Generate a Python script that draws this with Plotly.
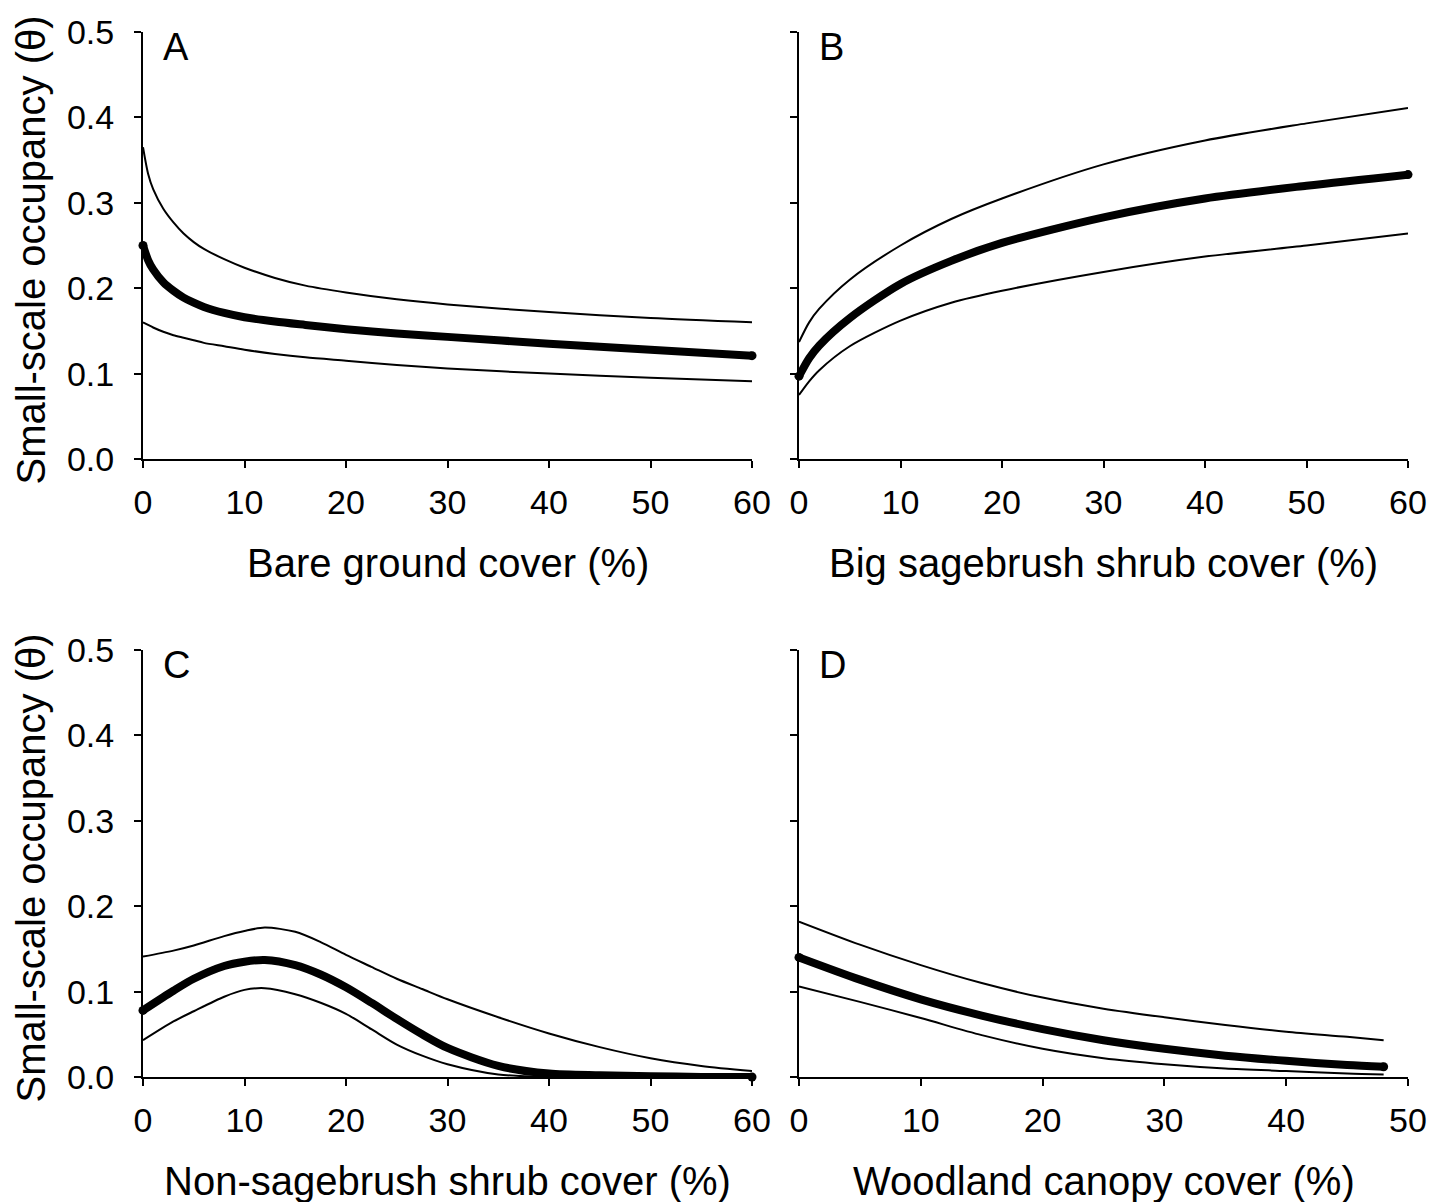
import plotly.graph_objects as go

# ---- Data ----
# Panel A: bare ground cover
a_x = [0, 0.5, 1, 2, 3, 4, 5, 6, 8, 10, 13, 16, 20, 25, 30, 40, 50, 60]
a_mean = [0.250, 0.233, 0.222, 0.207, 0.197, 0.189, 0.183, 0.178, 0.171, 0.166, 0.161, 0.157, 0.152, 0.147, 0.143, 0.135, 0.128, 0.121]
a_upper = [0.365, 0.334, 0.316, 0.293, 0.277, 0.264, 0.254, 0.246, 0.234, 0.224, 0.212, 0.203, 0.195, 0.187, 0.181, 0.172, 0.165, 0.160]
a_lower = [0.160, 0.157, 0.154, 0.149, 0.145, 0.142, 0.139, 0.136, 0.132, 0.128, 0.123, 0.119, 0.115, 0.110, 0.106, 0.100, 0.095, 0.091]

# Panel B: big sagebrush shrub cover
b_x = [0, 1, 2, 5, 10, 15, 20, 30, 40, 50, 60]
b_mean = [0.097, 0.118, 0.133, 0.165, 0.205, 0.232, 0.253, 0.283, 0.305, 0.320, 0.333]
b_upper = [0.137, 0.160, 0.176, 0.210, 0.250, 0.281, 0.305, 0.345, 0.373, 0.393, 0.411]
b_lower = [0.075, 0.091, 0.104, 0.132, 0.162, 0.183, 0.197, 0.219, 0.237, 0.250, 0.264]

# Panel C: non-sagebrush shrub cover
c_x = [0, 3, 5, 8, 10, 12, 15, 17.5, 20, 22.5, 25, 27.5, 30, 35, 40, 45, 50, 55, 60]
c_mean = [0.078, 0.101, 0.115, 0.130, 0.135, 0.137, 0.131, 0.120, 0.105, 0.087, 0.068, 0.050, 0.034, 0.013, 0.004, 0.002, 0.001, 0.0, 0.0]
c_upper = [0.141, 0.148, 0.154, 0.165, 0.171, 0.175, 0.170, 0.158, 0.143, 0.129, 0.115, 0.103, 0.091, 0.070, 0.051, 0.035, 0.022, 0.013, 0.007]
c_lower = [0.043, 0.065, 0.077, 0.094, 0.102, 0.104, 0.097, 0.087, 0.074, 0.056, 0.038, 0.025, 0.015, 0.003, 0.0, 0.0, 0.0, 0.0, 0.0]

# Panel D: woodland canopy cover
d_x = [0, 5, 10, 15, 20, 25, 30, 35, 40, 45, 48]
d_mean = [0.140, 0.114, 0.091, 0.072, 0.056, 0.043, 0.033, 0.025, 0.019, 0.014, 0.012]
d_upper = [0.182, 0.155, 0.131, 0.110, 0.093, 0.080, 0.070, 0.061, 0.053, 0.047, 0.043]
d_lower = [0.106, 0.088, 0.069, 0.049, 0.033, 0.022, 0.015, 0.010, 0.007, 0.004, 0.003]

panel_letters = ["A", "B", "C", "D"]
x_titles = ["Bare ground cover (%)", "Big sagebrush shrub cover (%)",
            "Non-sagebrush shrub cover (%)", "Woodland canopy cover (%)"]
y_title = "Small-scale occupancy (θ)"
x_max = [60, 60, 60, 50]

panels = [
    (a_x, a_mean, a_upper, a_lower),
    (b_x, b_mean, b_upper, b_lower),
    (c_x, c_mean, c_upper, c_lower),
    (d_x, d_mean, d_upper, d_lower),
]

W, H = 1445, 1202
OFF = 8  # page body margin
FONT = "Liberation Sans, Arial, sans-serif"

# plot-area pixel boxes in page coordinates (left, right, top, bottom)
boxes = [
    (143, 752, 32, 459),
    (799, 1408, 32, 459),
    (143, 752, 650, 1077),
    (799, 1408, 650, 1077),
]

def px_x(v):
    return (v - OFF) / W

def px_y(v):
    return (H - (v - OFF)) / H

fig = go.Figure()
layout = dict(
    width=W, height=H,
    margin=dict(l=0, r=0, t=0, b=0, autoexpand=False),
    paper_bgcolor="white", plot_bgcolor="white",
    showlegend=False,
    font=dict(family=FONT, color="black", size=34),
)
annotations = []

for i, (px, pm, pu, pl) in enumerate(panels):
    n = "" if i == 0 else str(i + 1)
    xa, ya = "x" + n, "y" + n
    l, r, t, b = boxes[i]
    for ys, w in ((pu, 2), (pl, 2), (pm, 8)):
        fig.add_trace(go.Scatter(
            x=px, y=ys, mode="lines", xaxis=xa, yaxis=ya,
            line=dict(color="black", width=w, shape="spline", smoothing=0.8),
            hoverinfo="skip"))
    # rounded ends of the thick estimate line
    fig.add_trace(go.Scatter(
        x=[px[0], px[-1]], y=[pm[0], pm[-1]], mode="markers",
        xaxis=xa, yaxis=ya, cliponaxis=False,
        marker=dict(color="black", size=9, line=dict(width=0)),
        hoverinfo="skip"))
    axis_common = dict(showline=True, linecolor="black", linewidth=2,
                       ticks="outside", ticklen=7, tickwidth=2, tickcolor="black",
                       showgrid=False, zeroline=False, mirror=False, automargin=False,
                       tickfont=dict(family=FONT, size=34, color="black"))
    layout["xaxis" + n] = dict(
        domain=[px_x(l), px_x(r)], anchor=ya, range=[0, x_max[i]],
        tick0=0, dtick=10, ticklabelstandoff=5, **axis_common)
    layout["yaxis" + n] = dict(
        domain=[px_y(b), px_y(t)], anchor=xa, range=[0, 0.5],
        tick0=0, dtick=0.1, tickformat=".1f",
        showticklabels=(i % 2 == 0), ticklabelstandoff=13, **axis_common)
    # x-axis title
    annotations.append(dict(
        text=x_titles[i], xref="paper", yref="paper",
        x=px_x((l + r) / 2), y=px_y(b + 104),
        xanchor="center", yanchor="middle", showarrow=False,
        font=dict(family=FONT, size=40, color="black")))
    # panel letter
    annotations.append(dict(
        text=panel_letters[i], xref="paper", yref="paper",
        x=px_x(l + 18), y=px_y(t + 15),
        xanchor="left", yanchor="middle", showarrow=False,
        font=dict(family=FONT, size=38, color="black")))
    if i % 2 == 0:
        annotations.append(dict(
            text=y_title, xref="paper", yref="paper",
            x=px_x(30), y=px_y((t + b) / 2 + 5), textangle=-90,
            xanchor="center", yanchor="middle", showarrow=False,
            font=dict(family=FONT, size=40, color="black")))

layout["annotations"] = annotations
fig.update_layout(**layout)
fig.write_html("out.html")
